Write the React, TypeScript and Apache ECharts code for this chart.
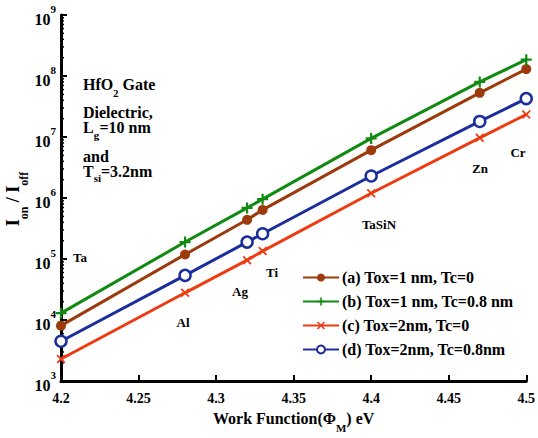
import React, { useEffect, useRef } from "react";
import * as echarts from "echarts";

const workFunction = [4.2, 4.28, 4.32, 4.33, 4.4, 4.47, 4.5];
const metals = ["Ta", "Al", "Ag", "Ti", "TaSiN", "Zn", "Cr"];
const seriesA = [8.1e3, 1.19e5, 4.4e5, 6.4e5, 6.1e6, 5.3e7, 1.3e8];
const seriesB = [1.3e4, 1.9e5, 6.9e5, 9.6e5, 9.5e6, 8.0e7, 1.85e8];
const seriesC = [2.3e3, 2.8e4, 9.6e4, 1.35e5, 1.2e6, 9.7e6, 2.34e7];
const seriesD = [4.5e3, 5.4e4, 1.9e5, 2.6e5, 2.3e6, 1.8e7, 4.27e7];
const seriesNames = [
  "(a) Tox=1 nm, Tc=0",
  "(b) Tox=1 nm, Tc=0.8 nm",
  "(c) Tox=2nm, Tc=0",
  "(d) Tox=2nm, Tc=0.8nm",
];
const yDecades = [3, 4, 5, 6, 7, 8];
const minorMultipliers = [2, 3, 4, 5, 6, 7, 8, 9];

const FONT = "Liberation Serif";
const PLUS = "path://M4,0h2v4h4v2h-4v4h-2v-4h-4v-2h4z";
const CROSS =
  "path://M1.4,0L5,3.6L8.6,0L10,1.4L6.4,5L10,8.6L8.6,10L5,6.4L1.4,10L0,8.6L3.6,5L0,1.4z";

export default function App() {
  const ref = useRef<HTMLDivElement>(null);
  useEffect(() => {
    if (!ref.current) return;
    const chart = echarts.init(ref.current, null, { renderer: "svg" });
    const mk = (arr: number[]) => workFunction.map((x, i) => [x, arr[i]]);
    const minorTicks: number[][] = [];
    yDecades.forEach((d) =>
      minorMultipliers.forEach((m) => minorTicks.push([4.2, m * Math.pow(10, d)]))
    );
    const lineSeries = (
      name: string,
      data: number[],
      color: string,
      symbol: string,
      size: number,
      filled: boolean
    ) => ({
      name,
      type: "line",
      data: mk(data),
      symbol,
      symbolSize: size,
      showSymbol: true,
      lineStyle: { color, width: 3 },
      itemStyle: filled
        ? { color, borderColor: color, borderWidth: 0 }
        : { color: "#fff", borderColor: color, borderWidth: 2.5 },
      z: 3,
    });
    const boldText = { fontFamily: FONT, fontWeight: "bold", color: "#000" };
    const txt = (s: string, x: number, y: number, fs: number) => ({
      type: "text",
      x,
      y,
      style: {
        text: s,
        fontFamily: FONT,
        fontWeight: "bold",
        fontSize: fs,
        lineHeight: fs === 16 ? 15 : fs,
        fill: "#000",
      },
    });
    const metalLabelPos = [
      [80, 257],
      [183, 322],
      [240, 291],
      [272, 272],
      [379, 224],
      [480, 168],
      [518, 152],
    ];
    const subRich = {
      b: { ...boldText, fontSize: 16, lineHeight: 23, verticalAlign: "top" },
      s: { ...boldText, fontSize: 11, lineHeight: 12, verticalAlign: "bottom" },
    };
    chart.setOption({
      animation: false,
      backgroundColor: "#fff",
      grid: { left: 61, right: 10, top: 15, bottom: 55, containLabel: false },
      xAxis: {
        type: "value",
        min: 4.2,
        max: 4.5,
        interval: 0.05,
        axisLine: { show: true, lineStyle: { color: "#000", width: 3 } },
        axisTick: { show: true, inside: true, length: 6, lineStyle: { color: "#000", width: 2 } },
        splitLine: { show: false },
        axisLabel: { ...boldText, fontSize: 14, margin: 10 },
        name: "{b|Work Function(Φ}{s|M}{b|) eV}",
        nameLocation: "middle",
        nameGap: 25,
        nameTextStyle: { rich: subRich },
      },
      yAxis: {
        type: "log",
        logBase: 10,
        min: 1e3,
        max: 1e9,
        axisLine: { show: true, lineStyle: { color: "#000", width: 3 } },
        axisTick: { show: true, inside: true, length: 6, lineStyle: { color: "#000", width: 2 } },
        minorTick: { show: false },
        splitLine: { show: false },
        axisLabel: {
          margin: 5,
          formatter: (v: number) => `{b|10}{s|${Math.round(Math.log10(v))}}`,
          rich: {
            b: { ...boldText, fontSize: 16, lineHeight: 24, verticalAlign: "bottom" },
            s: { ...boldText, fontSize: 11, lineHeight: 10, verticalAlign: "top" },
          },
        },
      },
      legend: {
        left: 297,
        top: 264,
        orient: "vertical",
        itemWidth: 36,
        itemHeight: 10,
        itemGap: 7,
        textStyle: { ...boldText, fontSize: 16, lineHeight: 17, padding: [0, 0, 0, -2] },
        data: seriesNames,
      },
      series: [
        lineSeries(seriesNames[0], seriesA, "#9c3a0c", "circle", 10, true),
        lineSeries(seriesNames[1], seriesB, "#118a12", PLUS, 11, true),
        lineSeries(seriesNames[2], seriesC, "#ee3c12", CROSS, 9, true),
        lineSeries(seriesNames[3], seriesD, "#1c2e9c", "circle", 11, false),
        {
          type: "custom",
          name: "minor",
          data: minorTicks,
          silent: true,
          z: 1,
          renderItem: (_p: any, api: any) => {
            const pt = api.coord([api.value(0), api.value(1)]);
            return {
              type: "line",
              shape: { x1: pt[0], y1: pt[1], x2: pt[0] + 3, y2: pt[1] },
              style: { stroke: "#000", lineWidth: 1.5 },
            };
          },
        },
      ],
      graphic: [
        {
          type: "text",
          x: 17,
          y: 199,
          rotation: Math.PI / 2,
          style: {
            text: "{b|I}{s|on}{b| / I}{s|off}",
            align: "center",
            verticalAlign: "middle",
            rich: {
              b: { ...boldText, fontSize: 18, lineHeight: 26, verticalAlign: "top" },
              s: { ...boldText, fontSize: 12, lineHeight: 12, verticalAlign: "bottom" },
            },
          },
        },
        txt("HfO", 83, 77, 16),
        txt("2", 113, 87, 11),
        txt(" Gate", 118.5, 77, 16),
        txt("Dielectric,", 83, 105, 16),
        txt("L", 83, 120, 16),
        txt("g", 93.7, 129, 11),
        txt("=10 nm", 99.5, 120, 16),
        txt("and", 83, 149, 16),
        txt("T", 83, 164, 16),
        txt("si", 93.7, 172, 11),
        txt("=3.2nm", 101, 164, 16),
        ...metals.map((m, i) => ({
          type: "text",
          x: metalLabelPos[i][0],
          y: metalLabelPos[i][1],
          style: {
            text: m,
            ...boldText,
            fontSize: 13,
            fill: "#000",
            align: "center",
            verticalAlign: "middle",
          },
        })),
      ],
    });
    return () => chart.dispose();
  }, []);
  return (
    <div
      ref={ref}
      style={{ width: 538, height: 438, position: "fixed", left: 0, top: 0 }}
    />
  );
}
